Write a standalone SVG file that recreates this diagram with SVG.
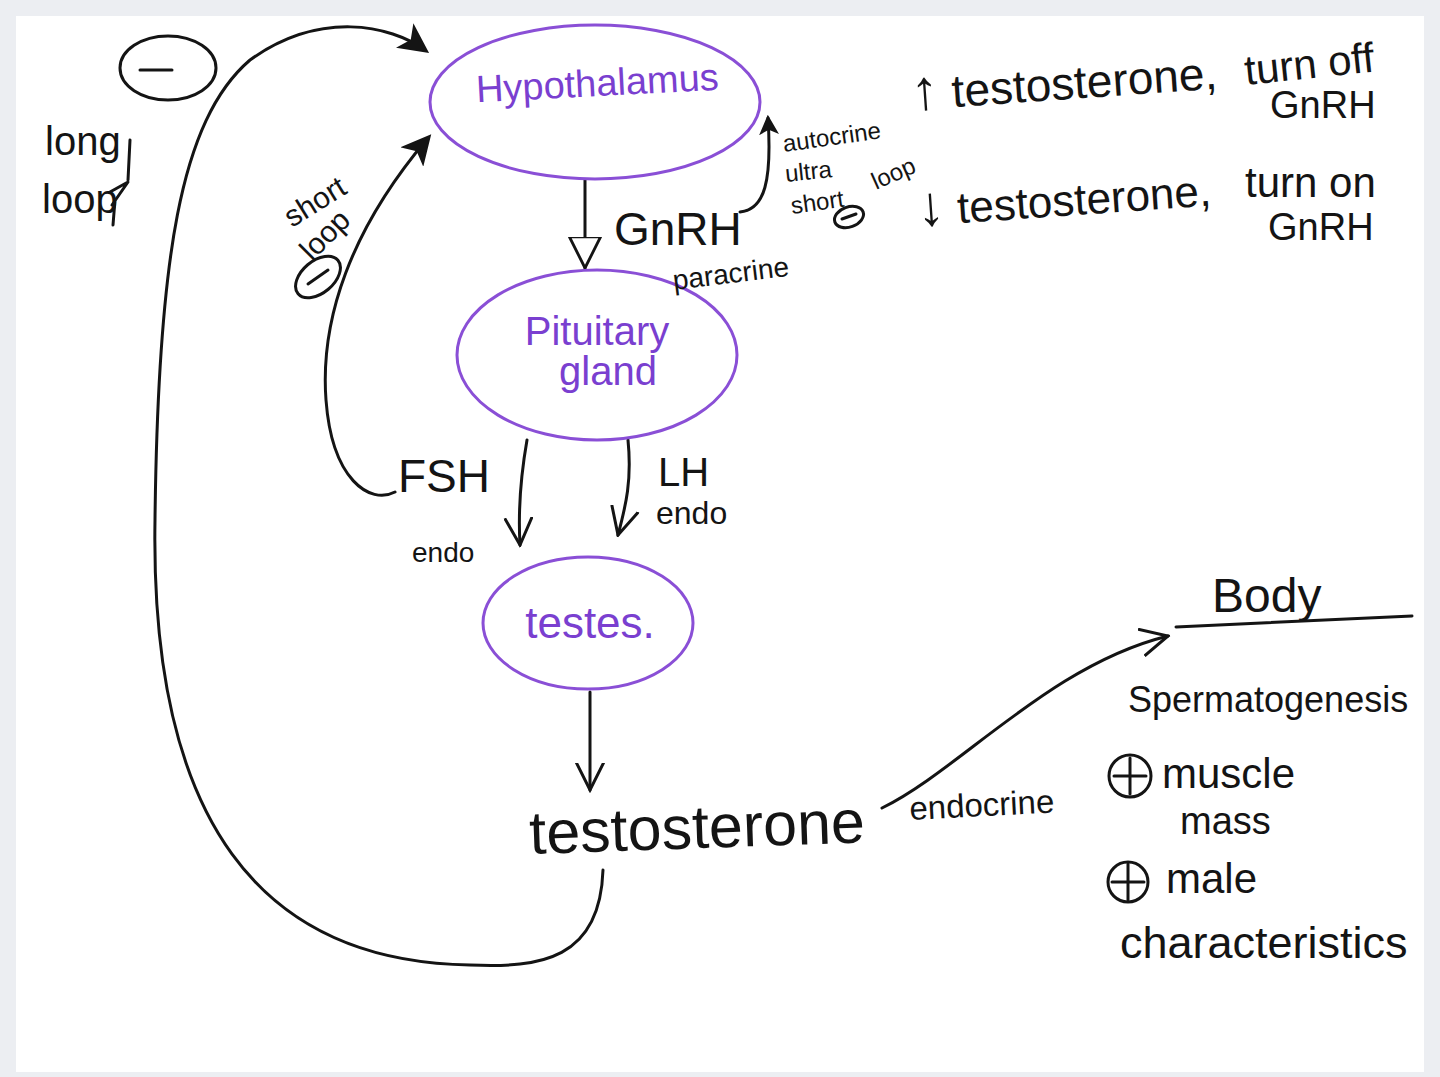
<svg xmlns="http://www.w3.org/2000/svg" width="1440" height="1077" viewBox="0 0 1440 1077">
<defs>
<style>
.ink{fill:none;stroke:#141414;stroke-width:3;stroke-linecap:round;stroke-linejoin:round}
.node{fill:none;stroke:#8a4fd6;stroke-width:3}
.ntxt{fill:#7a3fd0;font-family:"Liberation Sans",Arial,sans-serif}
.t{fill:#141414;font-family:"Liberation Sans",Arial,sans-serif}
</style>
<marker id="solid" viewBox="0 0 12 12" refX="10" refY="6" markerWidth="20" markerHeight="20" orient="auto" markerUnits="userSpaceOnUse">
<path d="M0,0 L12,6 L0,12 L3,6 Z" fill="#141414"/>
</marker>
<marker id="big" viewBox="0 0 12 12" refX="10" refY="6" markerWidth="30" markerHeight="30" orient="auto" markerUnits="userSpaceOnUse">
<path d="M0,0 L12,6 L0,12 L3,6 Z" fill="#141414"/>
</marker>
<marker id="vee" viewBox="0 0 12 12" refX="11" refY="6" markerWidth="30" markerHeight="30" orient="auto" markerUnits="userSpaceOnUse">
<path d="M0,0.5 L11,6 L0,11.5" fill="none" stroke="#141414" stroke-width="1.2"/>
</marker>
<marker id="tri" viewBox="0 0 12 12" refX="11" refY="6" markerWidth="34" markerHeight="34" orient="auto" markerUnits="userSpaceOnUse">
<path d="M0,0.5 L11,6 L0,11.5 Z" fill="#fff" stroke="#141414" stroke-width="1"/>
</marker>
</defs>
<rect x="0" y="0" width="1440" height="1077" fill="#eceef2"/>
<rect x="16" y="16" width="1408" height="1056" fill="#ffffff"/>

<g id="connectors">
<path class="ink" d="M585,180 L585,268" marker-end="url(#tri)"/>
<path class="ink" d="M740,212 C765,210 772,180 768,118" marker-end="url(#solid)"/>
<path class="ink" d="M527,440 C520,480 518,510 520,545" marker-end="url(#vee)"/>
<path class="ink" d="M628,440 C632,480 626,505 618,535" marker-end="url(#vee)"/>
<path class="ink" d="M590,692 L590,790" marker-end="url(#vee)"/>
<path class="ink" d="M395,492 C370,505 332,480 326,400 C320,320 350,230 428,138" marker-end="url(#big)"/>
<path class="ink" d="M603,870 C600,960 540,968 470,965 C260,962 150,820 155,520 C158,260 180,120 250,60 C320,10 390,25 425,50" marker-end="url(#big)"/>
<path class="ink" d="M882,808 C960,770 1050,665 1168,636" marker-end="url(#vee)"/>
</g>

<g id="hypothalamus">
<ellipse class="node" cx="595" cy="102" rx="165" ry="77"/>
<text class="ntxt" x="598" y="96" font-size="38" text-anchor="middle" transform="rotate(-3 598 96)">Hypothalamus</text>
</g>
<g id="pituitary">
<ellipse class="node" cx="597" cy="355" rx="140" ry="85"/>
<text class="ntxt" x="597" y="345" font-size="40" text-anchor="middle">Pituitary</text>
<text class="ntxt" x="608" y="385" font-size="40" text-anchor="middle">gland</text>
</g>
<g id="testes">
<ellipse class="node" cx="588" cy="623" rx="105" ry="66"/>
<text class="ntxt" x="590" y="638" font-size="44" text-anchor="middle">testes.</text>
</g>

<g id="gnrh">
<text class="t" x="614" y="245" font-size="46">GnRH</text>
<text class="t" x="674" y="290" font-size="28" transform="rotate(-7 674 290)">paracrine</text>
<text class="t" x="784" y="152" font-size="24" transform="rotate(-8 784 152)">autocrine</text>
<text class="t" x="786" y="182" font-size="24" transform="rotate(-6 786 182)">ultra</text>
<text class="t" x="792" y="214" font-size="24" transform="rotate(-8 792 214)">short</text>
<text class="t" x="876" y="190" font-size="24" transform="rotate(-24 876 190)">loop</text>
<ellipse class="ink" cx="849" cy="217" rx="15" ry="10" transform="rotate(-20 849 217)" stroke-width="2.5"/>
<path class="ink" d="M842,219 L856,214" stroke-width="2.5"/>
</g>

<g id="long-loop">
<ellipse class="ink" cx="168" cy="68" rx="48" ry="32"/>
<path class="ink" d="M140,70 L172,70"/>
<text class="t" x="45" y="155" font-size="40">long</text>
<text class="t" x="42" y="213" font-size="40">loop</text>
<path class="ink" d="M130,140 L128,180 M110,192 L128,182 L112,205 M115,200 L113,225"/>
</g>

<g id="short-loop">
<text class="t" x="292" y="228" font-size="30" transform="rotate(-32 292 228)">short</text>
<text class="t" x="312" y="262" font-size="30" transform="rotate(-45 312 262)">loop</text>
<ellipse class="ink" cx="318" cy="277" rx="26" ry="16" transform="rotate(-40 318 277)"/>
<path class="ink" d="M308,284 L328,270"/>
</g>

<g id="hormones">
<text class="t" x="398" y="492" font-size="46">FSH</text>
<text class="t" x="412" y="562" font-size="28">endo</text>
<text class="t" x="658" y="486" font-size="40">LH</text>
<text class="t" x="656" y="524" font-size="32">endo</text>
</g>

<g id="testosterone">
<text class="t" x="530" y="854" font-size="61" transform="rotate(-2 530 854)">testosterone</text>
<text class="t" x="910" y="820" font-size="33" transform="rotate(-3 910 820)">endocrine</text>
</g>

<g id="notes">
<text class="t" x="912" y="110" font-size="46" transform="rotate(-4 912 110)"><tspan font-size="56">↑</tspan> testosterone,</text>
<text class="t" x="1246" y="85" font-size="42" transform="rotate(-6 1246 85)">turn off</text>
<text class="t" x="1270" y="118" font-size="38">GnRH</text>
<text class="t" x="918" y="226" font-size="44" transform="rotate(-4 918 226)"><tspan font-size="56">↓</tspan> testosterone,</text>
<text class="t" x="1245" y="197" font-size="42">turn on</text>
<text class="t" x="1268" y="240" font-size="38">GnRH</text>
</g>

<g id="body">
<text class="t" x="1212" y="612" font-size="48">Body</text>
<path class="ink" d="M1176,627 L1412,616"/>
<text class="t" x="1128" y="712" font-size="36">Spermatogenesis</text>
<circle class="ink" cx="1130" cy="776" r="21"/>
<path class="ink" d="M1130,758 L1130,794 M1114,776 L1146,776"/>
<text class="t" x="1162" y="788" font-size="42">muscle</text>
<text class="t" x="1180" y="834" font-size="38">mass</text>
<circle class="ink" cx="1128" cy="882" r="20"/>
<path class="ink" d="M1128,864 L1128,900 M1112,882 L1144,882"/>
<text class="t" x="1166" y="893" font-size="42">male</text>
<text class="t" x="1120" y="958" font-size="45">characteristics</text>
</g>
</svg>
